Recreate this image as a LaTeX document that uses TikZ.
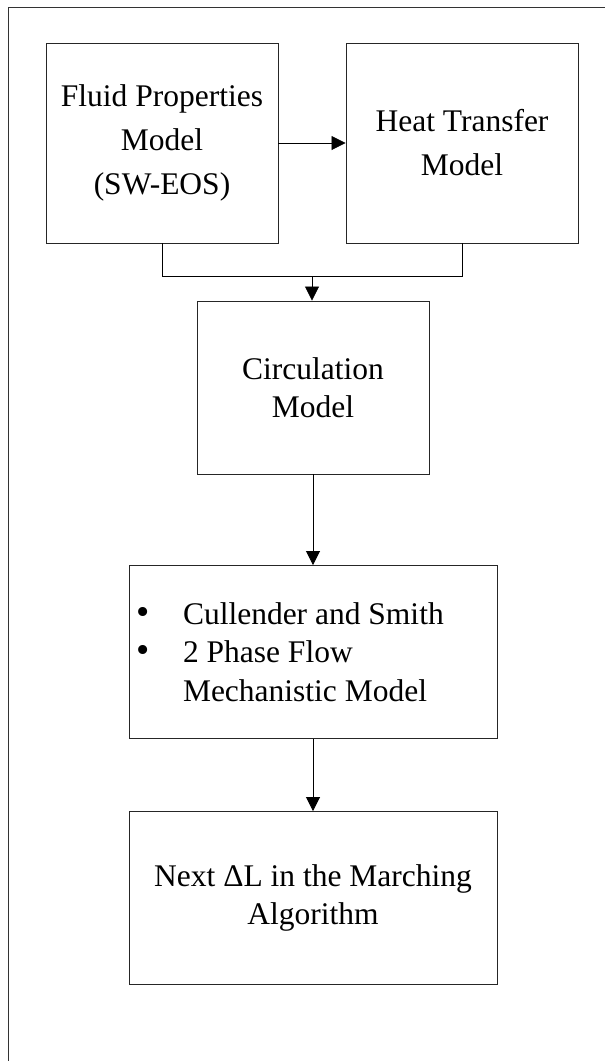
\documentclass[tikz,border=0pt]{standalone}
\usepackage{fontspec}
\setmainfont{Liberation Serif}
\usetikzlibrary{arrows.meta}
\begin{document}
\begin{tikzpicture}[x=1pt,y=-1pt,
  box/.style={draw=black!85,line width=0.9pt,rectangle,inner sep=0pt,align=center},
  bigfont/.style={font=\fontsize{31.5}{44}\selectfont},
  smallfont/.style={font=\fontsize{31.5}{38.5}\selectfont},
  conn/.style={draw=black,line width=0.8pt},
  arr/.style={conn,-{Triangle[length=14pt,width=14pt]}}]
\useasboundingbox (0,0) rectangle (605,1061);
\draw[line width=0.9pt,black!80] (8,1061) -- (8,7) -- (605,7);
\node[box,bigfont,minimum width=232pt,minimum height=200pt] (fp) at (162,143) {Fluid Properties\\Model\\(SW-EOS)};
\node[box,bigfont,minimum width=232pt,minimum height=200pt] (ht) at (462,143) {Heat Transfer\\Model};
\node[box,smallfont,minimum width=232pt,minimum height=173pt] (cm) at (313,387.5) {Circulation\\Model};
\node[box,smallfont,minimum width=368pt,minimum height=173pt,text width=354pt,inner xsep=7pt,align=flush left] (cs) at (313,652)
  {\makebox[47pt][l]{\scalebox{1.2}{•}}Cullender and Smith\\\makebox[47pt][l]{\scalebox{1.2}{•}}2 Phase Flow\\\hspace*{47pt}Mechanistic Model};
\node[box,smallfont,minimum width=368pt,minimum height=173pt] (nx) at (313,898) {Next ΔL in the Marching\\Algorithm};
\coordinate (j) at (312,276);
\draw[arr] (fp.east) -- (ht.east -| ht.west);
\draw[conn] (fp.south) -- (fp.south |- j) -- (ht.south |- j) -- (ht.south);
\draw[arr] (j) -- (j |- cm.north);
\draw[arr] (cm.south) -- (cs.north);
\draw[arr] (cs.south) -- (nx.north);
\end{tikzpicture}
\end{document}
